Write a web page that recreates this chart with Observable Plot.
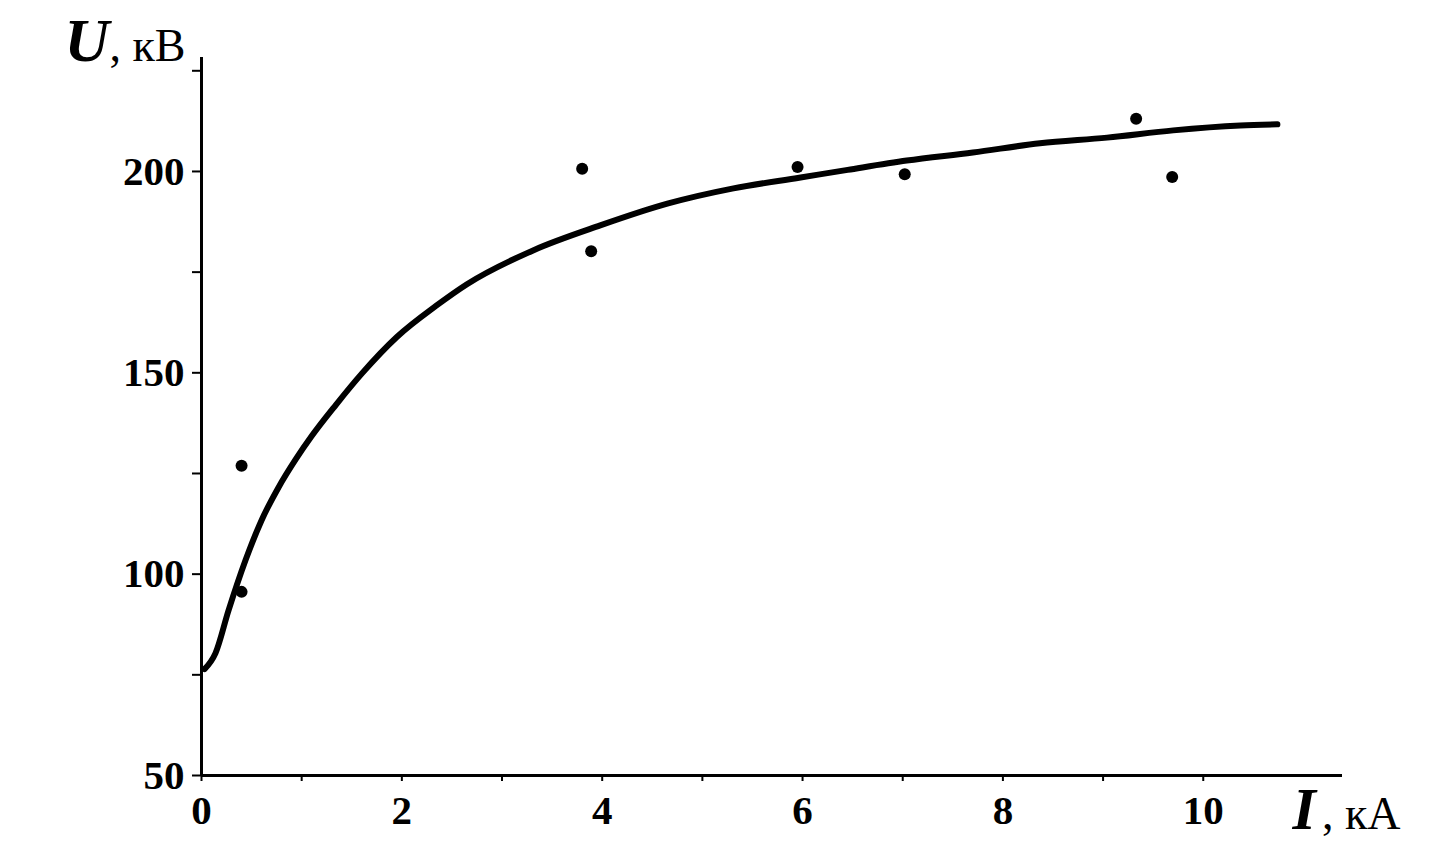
<!DOCTYPE html>
<html>
<head>
<meta charset="utf-8">
<script src="https://cdn.jsdelivr.net/npm/d3@7"></script>
<script src="https://cdn.jsdelivr.net/npm/@observablehq/plot@0.6"></script>
<style>
  html, body { margin: 0; padding: 0; background: #fff; }
  #chart { width: 1447px; height: 851px; }
</style>
</head>
<body>
<div id="chart"></div>
<script>
// Fitted curve U(I)
const curveI = [0.03, 0.14, 0.27, 0.44, 0.6, 0.77, 0.94, 1.1, 1.34, 1.6, 1.95, 2.34, 2.65, 3.31, 3.98, 4.65, 5.31, 5.98, 6.45, 7.04, 7.7, 8.37, 9.04, 9.7, 10.37, 10.74];
const curveU = [76.4, 80.4, 91, 103.5, 113.4, 121.6, 128.5, 134.3, 142.0, 149.8, 158.9, 166.6, 172.0, 180.4, 186.6, 192, 195.8, 198.5, 200.4, 202.7, 204.7, 207.0, 208.4, 210.2, 211.4, 211.7];
// Measured points
const pointI = [0.4, 0.4, 3.8, 3.89, 5.95, 7.02, 9.33, 9.69];
const pointU = [126.9, 95.6, 200.7, 180.2, 201.1, 199.3, 213.1, 198.6];
// Axis ticks
const xTicks = [0, 1, 2, 3, 4, 5, 6, 7, 8, 9, 10];
const xLabels = [0, 2, 4, 6, 8, 10];
const yTicks = [50, 75, 100, 125, 150, 175, 200, 225];
const yLabels = [50, 100, 150, 200];

const curve = curveI.map((x, i) => ({x, y: curveU[i]}));
const points = pointI.map((x, i) => ({x, y: pointU[i]}));

const serif = "'Liberation Serif', 'Times New Roman', serif";

const chart = Plot.plot({
  width: 1447,
  height: 851,
  marginLeft: 201,
  marginRight: 105,
  marginTop: 57,
  marginBottom: 76,
  style: {fontFamily: serif, background: "#fff", color: "#000"},
  x: {domain: [0, 11.39]},
  y: {domain: [50, 228.3]},
  marks: [
    Plot.axisX({ticks: xTicks, tickFormat: d => xLabels.includes(d) ? String(d) : "", tickSize: 6, tickPadding: 13, label: null, fontSize: 41, fontWeight: "bold", strokeWidth: 2}),
    Plot.axisY({ticks: yTicks, tickFormat: d => yLabels.includes(d) ? String(d) : "", tickSize: 9, tickPadding: 8, label: null, fontSize: 41, fontWeight: "bold", strokeWidth: 2}),
    Plot.ruleX([0], {strokeWidth: 3}),
    Plot.ruleY([50], {strokeWidth: 3}),
    Plot.line(curve, {x: "x", y: "y", curve: "monotone-x", strokeWidth: 6, stroke: "#000"}),
    Plot.dot(points, {x: "x", y: "y", r: 6, fill: "#000", stroke: "none"}),
    Plot.text(["U"], {frameAnchor: "top-left", textAnchor: "start", lineAnchor: "bottom", dx: -137, dy: 3, fontSize: 62, fontWeight: "bold", fontStyle: "italic", fill: "#000"}),
    Plot.text([", кВ"], {frameAnchor: "top-left", textAnchor: "end", lineAnchor: "bottom", dx: -16, dy: 3, fontSize: 46, fill: "#000"}),
    Plot.text(["I"], {frameAnchor: "bottom-right", textAnchor: "start", lineAnchor: "bottom", dx: -50, dy: 53, fontSize: 60, fontWeight: "bold", fontStyle: "italic", fill: "#000"}),
    Plot.text([", кА"], {frameAnchor: "bottom-right", textAnchor: "end", lineAnchor: "bottom", dx: 58, dy: 53, fontSize: 46, fill: "#000"})
  ]
});
document.getElementById("chart").appendChild(chart);
</script>
</body>
</html>
